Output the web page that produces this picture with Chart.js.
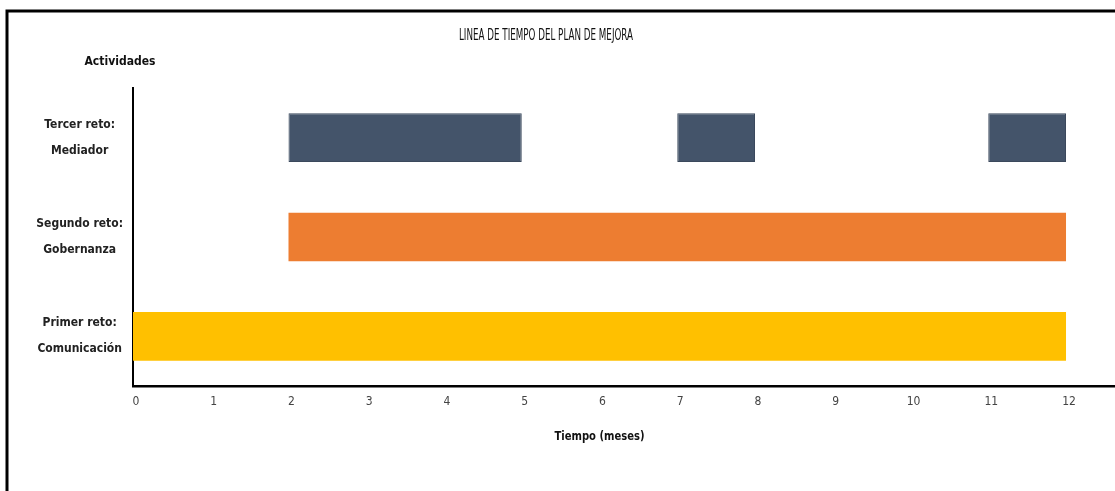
<!DOCTYPE html>
<html>
<head>
<meta charset="utf-8">
<style>
  html, body { margin: 0; padding: 0; background: #ffffff; }
  #wrap { position: relative; width: 1115px; height: 491px; }
</style>
<script src="https://cdn.jsdelivr.net/npm/chart.js@4/dist/chart.umd.min.js"></script>
</head>
<body>
<div id="wrap"><canvas id="timeline" width="1115" height="491"></canvas></div>
<script>
// Activities on the vertical axis (top to bottom)
const categories = [
  ["Tercer reto:", "Mediador"],
  ["Segundo reto:", "Gobernanza"],
  ["Primer reto:", "Comunicación"]
];
// Periods of each activity, [start month, end month]
const mediador = [[2, 5], [7, 8], [11, 12]];
const gobernanza = [[2, 12]];
const comunicacion = [[0, 12]];
// Month ticks on the time axis
const monthTicks = [0, 1, 2, 3, 4, 5, 6, 7, 8, 9, 10, 11, 12];

const chartTitle = "LINEA DE TIEMPO DEL PLAN DE MEJORA";
const yAxisTitle = "Actividades";
const xAxisTitle = "Tiempo (meses)";

const colors = ["#44546a", "#ed7d31", "#ffc000"];
const narrow = "'Liberation Sans Narrow', 'DejaVu Sans Condensed', 'Roboto Condensed', sans-serif";

// one floating-bar dataset per period, placed on its activity row
function periodDatasets(periods, row) {
  return periods.map(p => {
    const data = categories.map(() => null);
    data[row] = p;
    return {
      data,
      backgroundColor: colors[row],
      borderColor: row === 0 ? "#3b495c" : colors[row],
      borderWidth: row === 0 ? 1 : 0,
      borderSkipped: false,
      grouped: false,
      categoryPercentage: 1,
      barPercentage: 0.49
    };
  });
}

const datasets = [
  ...periodDatasets(mediador, 0),
  ...periodDatasets(gobernanza, 1),
  ...periodDatasets(comunicacion, 2)
];

// frame and free-standing titles
const decorations = {
  id: "decorations",
  beforeDraw(chart) {
    const ctx = chart.ctx;
    ctx.save();
    ctx.fillStyle = "#ffffff";
    ctx.fillRect(0, 0, chart.width, chart.height);
    ctx.restore();
  },
  afterDraw(chart) {
    const ctx = chart.ctx;
    const xs = chart.scales.x;
    ctx.save();
    // outer frame
    ctx.strokeStyle = "#000000";
    ctx.lineWidth = 3;
    ctx.beginPath();
    ctx.moveTo(7, chart.height);
    ctx.lineTo(7, 11);
    ctx.lineTo(chart.width, 11);
    ctx.stroke();

    ctx.fillStyle = "#111111";
    ctx.textAlign = "center";
    ctx.textBaseline = "middle";
    ctx.font = "15px " + narrow;
    ctx.fillText(chartTitle, 546, 36, 174);
    ctx.font = "bold 13px " + narrow;
    ctx.fillText(yAxisTitle, 120, 62, 71);
    ctx.fillText(xAxisTitle, xs.getPixelForValue(6), 437, 90);
    ctx.restore();
  }
};

new Chart(document.getElementById("timeline"), {
  type: "bar",
  data: { labels: categories, datasets },
  options: {
    indexAxis: "y",
    responsive: false,
    animation: false,
    layout: { padding: { top: 88, left: 0, right: 0, bottom: 0 } },
    plugins: {
      legend: { display: false },
      tooltip: { enabled: false }
    },
    scales: {
      x: {
        type: "linear",
        min: 0,
        max: 12.63,
        afterFit(scale) { scale.height = 105; },
        afterBuildTicks(scale) { scale.ticks = monthTicks.map(v => ({ value: v })); },
        grid: { display: false, drawTicks: false },
        border: { display: true, color: "#000000", width: 2.5 },
        ticks: {
          padding: 9,
          labelOffset: 3,
          color: "#444444",
          font: { family: narrow, size: 12 },
          callback: v => String(v)
        }
      },
      y: {
        afterFit(scale) { scale.width = 133; },
        grid: { display: false, drawTicks: false },
        border: { display: true, color: "#000000", width: 2 },
        ticks: {
          crossAlign: "center",
          padding: 10,
          color: "#222222",
          font: { family: narrow, size: 12, weight: "bold", lineHeight: 2.17 }
        }
      }
    }
  },
  plugins: [decorations]
});
</script>
</body>
</html>
